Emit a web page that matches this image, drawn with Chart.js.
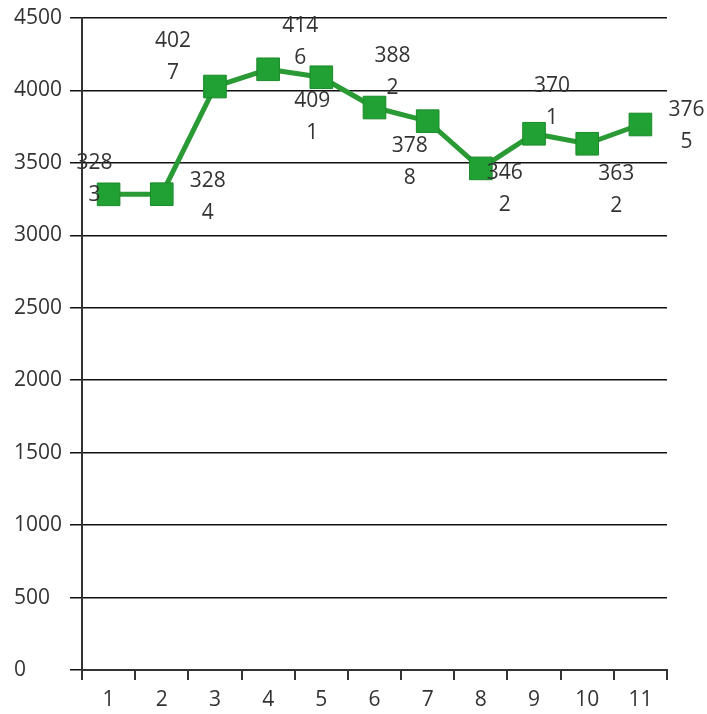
<!DOCTYPE html>
<html><head><meta charset="utf-8">
<script src="https://cdn.jsdelivr.net/npm/chart.js@4/dist/chart.umd.min.js"></script>
<style>html,body{margin:0;padding:0;background:#fff}#wrap{width:707px;height:714px}</style>
</head><body><div id="wrap"><canvas id="c" width="707" height="714"></canvas></div>
<script>
const categories = ['1','2','3','4','5','6','7','8','9','10','11'];
const values = [3283, 3284, 4027, 4146, 4091, 3882, 3788, 3462, 3701, 3632, 3765];
const yTickValues = [0, 500, 1000, 1500, 2000, 2500, 3000, 3500, 4000, 4500];

// label placement relative to each marker (style only)
const labelShift = [[-14,-15],[46,3],[-42,-30],[32,-27],[-9,40],[18,-36],[-18,41],[24,21],[18,-32],[29,46],[46,2]];

const FONT = '"Open Sans", "Noto Sans", sans-serif';
const TXT = '#333';

const labelPlugin = {
  id: 'wrappedLabels',
  afterDatasetsDraw(chart) {
    const ctx = chart.ctx;
    const meta = chart.getDatasetMeta(0);
    ctx.save();
    ctx.font = '21px ' + FONT;
    ctx.fillStyle = TXT;
    ctx.textAlign = 'center';
    ctx.textBaseline = 'middle';
    meta.data.forEach((pt, i) => {
      const s = String(values[i]);
      const cx = pt.x + labelShift[i][0];
      const cy = pt.y + labelShift[i][1];
      ctx.fillText(s.slice(0, 3), cx, cy - 16);
      ctx.fillText(s.slice(3), cx, cy + 16);
    });
    ctx.restore();
  }
};

new Chart(document.getElementById('c'), {
  type: 'line',
  data: {
    labels: categories,
    datasets: [{
      data: values,
      borderColor: '#2a9a35',
      borderWidth: 5,
      backgroundColor: '#21a034',
      pointStyle: 'rect',
      pointRadius: 16,
      pointHoverRadius: 16,
      pointBorderColor: '#1b8a2a',
      pointBorderWidth: 1,
      tension: 0
    }]
  },
  options: {
    responsive: false,
    animation: false,
    devicePixelRatio: 1,
    layout: { padding: { top: 18, right: 40, left: 14, bottom: 0 } },
    plugins: { legend: { display: false }, tooltip: { enabled: false } },
    scales: {
      x: {
        offset: true,
        grid: { offset: true, drawOnChartArea: false, drawTicks: true, tickLength: 10, color: '#333', lineWidth: 2 },
        border: { color: '#333', width: 2 },
        ticks: { color: TXT, font: { family: FONT, size: 21 }, padding: 7, maxRotation: 0 },
        afterFit(scale) { scale.height = 44; }
      },
      y: {
        min: 0, max: 4500,
        afterBuildTicks(scale) { scale.ticks = yTickValues.map(v => ({ value: v })); },
        grid: { color: '#111', lineWidth: 1.5, drawTicks: true, tickLength: 12 },
        border: { color: '#333', width: 2 },
        ticks: { color: TXT, font: { family: FONT, size: 21 }, padding: 4, crossAlign: 'far', callback: v => String(v) },
        afterFit(scale) { scale.width = 68; }
      }
    }
  },
  plugins: [labelPlugin]
});
</script></body></html>
